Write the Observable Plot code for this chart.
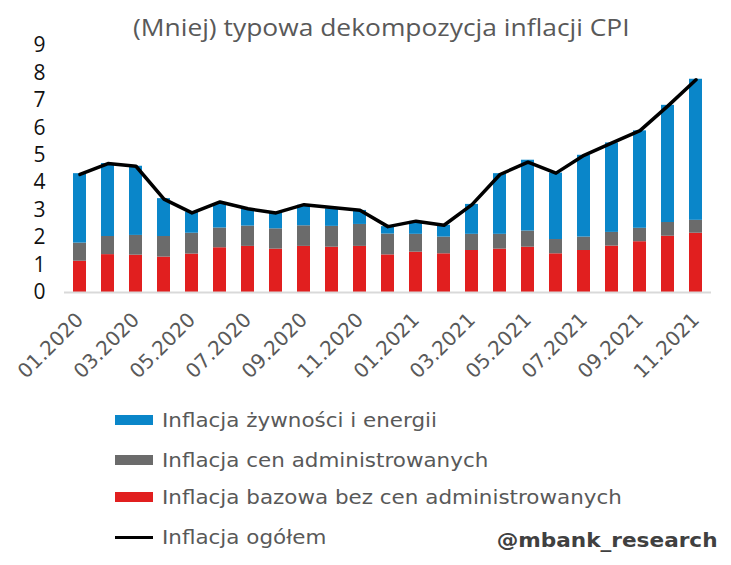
<!DOCTYPE html>
<html>
<head>
<meta charset="utf-8">
<script src="https://cdn.jsdelivr.net/npm/d3@7"></script>
<script src="https://cdn.jsdelivr.net/npm/@observablehq/plot@0.6"></script>
<style>
  html, body { margin: 0; padding: 0; background: #fff; }
  #wrap { position: relative; width: 731px; height: 565px; overflow: hidden; background: #fff; }
  #title { position: absolute; left: 133px; top: 10px; white-space: nowrap;
           font-family: "Open Sans", Lato, sans-serif; font-size: 24px; color: #595959;
           transform: scaleX(1.1); transform-origin: left center; }
  #chart { position: absolute; left: 0; top: 30px; }
  .leg { position: absolute; left: 115px; height: 24px; display: flex; align-items: center;
         font-family: "DejaVu Sans", Verdana, sans-serif; font-size: 19.5px; color: #595959; white-space: nowrap; }
  .leg span { display: inline-block; transform: scaleX(1.1); transform-origin: left center; }
  .sw { width: 38px; height: 10px; margin-right: 9px; }
  .ln { width: 38px; height: 3px; margin-right: 9px; background: #000; }
  #brand { position: absolute; right: 13px; top: 528px; font-family: "DejaVu Sans", Verdana, sans-serif;
           font-weight: bold; font-size: 20px; color: #404040; transform: scaleX(1.08); transform-origin: right center; }
  #chart g[aria-label="y-axis tick label"] text, #chart g[aria-label="y-axis"] text {
    font-family: "Open Sans", Lato, sans-serif; font-size: 21px; fill: #111;
  }
  #chart g[aria-label="x-axis tick label"] text, #chart g[aria-label="x-axis"] text {
    font-family: "DejaVu Sans", Verdana, sans-serif; font-size: 20px; fill: #595959;
  }
</style>
</head>
<body>
<div id="wrap">
  <div id="title">(Mniej) typowa dekompozycja inflacji CPI</div>
  <div id="chart"></div>
  <div id="legend"></div>
  <div id="brand">@mbank_research</div>
</div>
<script>
const months = ["01.2020","02.2020","03.2020","04.2020","05.2020","06.2020","07.2020","08.2020","09.2020","10.2020","11.2020","12.2020",
                "01.2021","02.2021","03.2021","04.2021","05.2021","06.2021","07.2021","08.2021","09.2021","10.2021","11.2021"];
const tickLabels = ["01.2020","03.2020","05.2020","07.2020","09.2020","11.2020","01.2021","03.2021","05.2021","07.2021","09.2021","11.2021"];
const seriesNames = ["Inflacja bazowa bez cen administrowanych","Inflacja cen administrowanych","Inflacja żywności i energii"];
const seriesColors = ["#e11f1f","#6b6b6b","#0a86c9"];
const coreExAdmin = [1.14,1.38,1.36,1.29,1.40,1.63,1.68,1.58,1.68,1.65,1.68,1.37,1.47,1.41,1.53,1.58,1.65,1.41,1.53,1.69,1.85,2.05,2.16];
const adminPrices = [0.66,0.66,0.72,0.75,0.76,0.72,0.74,0.74,0.75,0.76,0.80,0.76,0.65,0.61,0.59,0.54,0.59,0.52,0.49,0.50,0.49,0.50,0.47];
const foodEnergy  = [2.53,2.66,2.52,1.38,0.77,0.89,0.63,0.59,0.75,0.64,0.51,0.27,0.47,0.43,1.09,2.21,2.58,2.42,2.98,3.26,3.55,4.27,5.14];
const totalCPI    = [4.3,4.7,4.6,3.4,2.9,3.3,3.05,2.9,3.2,3.1,3.0,2.4,2.6,2.45,3.2,4.3,4.75,4.35,5.0,5.45,5.9,6.8,7.75];
const yTicks = [0,1,2,3,4,5,6,7,8,9];

const components = [coreExAdmin, adminPrices, foodEnergy];
const rows = [];
components.forEach((arr, s) => arr.forEach((v, i) => rows.push({month: months[i], series: seriesNames[s], value: v})));
const totalRows = totalCPI.map((v, i) => ({month: months[i], value: v}));

const plot = Plot.plot({
  width: 731,
  height: 370,
  marginTop: 15,
  marginBottom: 108,
  marginLeft: 64,
  marginRight: 20,
  style: {fontFamily: "DejaVu Sans, sans-serif", background: "transparent", overflow: "visible"},
  x: {type: "band", domain: months, paddingInner: 0.54, paddingOuter: 0.27, ticks: tickLabels,
      tickRotate: -45, tickSize: 0, tickPadding: 24, label: null},
  y: {domain: [0, 9], ticks: yTicks, tickSize: 0, tickPadding: 19, label: null},
  color: {domain: seriesNames, range: seriesColors},
  marks: [
    Plot.barY(rows, {x: "month", y: "value", fill: "series"}),
    Plot.ruleY([0], {stroke: "#d9d9d9", strokeWidth: 2}),
    Plot.line(totalRows, {x: "month", y: "value", stroke: "#000", strokeWidth: 3.5, strokeLinejoin: "round"})
  ]
});
document.getElementById("chart").appendChild(plot);

const legendItems = [
  {label: seriesNames[2], color: seriesColors[2], top: 408, kind: "sw"},
  {label: seriesNames[1], color: seriesColors[1], top: 448, kind: "sw"},
  {label: seriesNames[0], color: seriesColors[0], top: 485, kind: "sw"},
  {label: "Inflacja ogółem", color: "#000", top: 525, kind: "ln"}
];
const leg = document.getElementById("legend");
legendItems.forEach(it => {
  const d = document.createElement("div");
  d.className = "leg";
  d.style.top = it.top + "px";
  const s = document.createElement("div");
  s.className = it.kind;
  s.style.background = it.color;
  d.appendChild(s);
  const t = document.createElement("span");
  t.textContent = it.label;
  d.appendChild(t);
  leg.appendChild(d);
});
</script>
</body>
</html>
